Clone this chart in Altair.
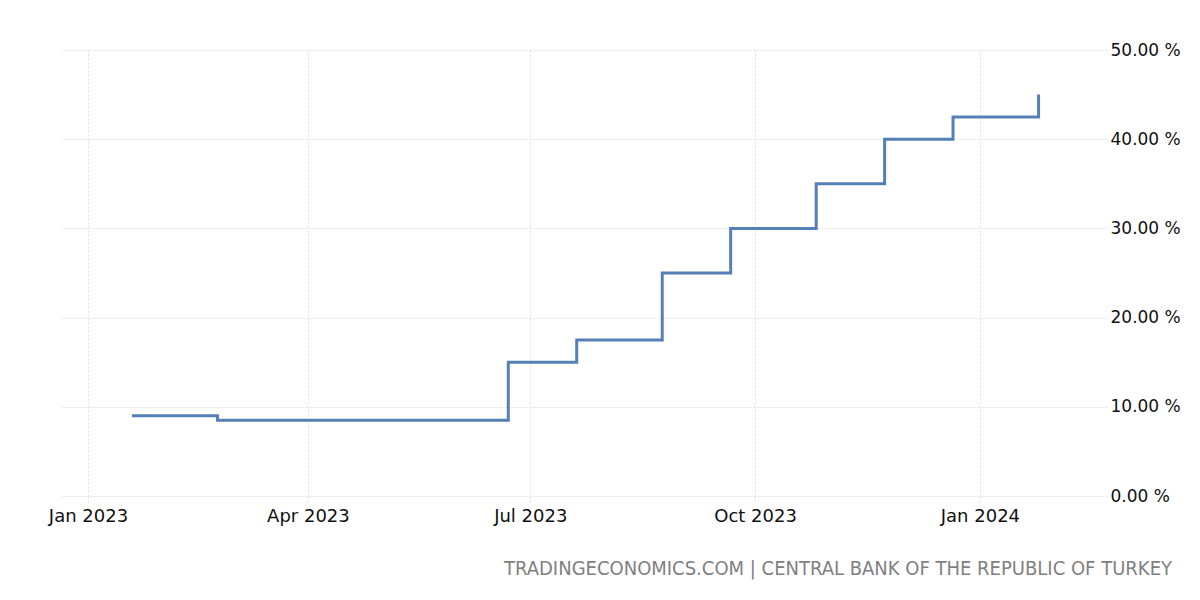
import altair as alt
import pandas as pd

dates = ["2023-01-19", "2023-02-23", "2023-03-23", "2023-04-27", "2023-05-25",
         "2023-06-22", "2023-07-20", "2023-08-24", "2023-09-21", "2023-10-26",
         "2023-11-23", "2023-12-21", "2024-01-25"]
rates = [9.0, 8.5, 8.5, 8.5, 8.5, 15.0, 17.5, 25.0, 30.0, 35.0, 40.0, 42.5, 45.0]
y_ticks = [0, 10, 20, 30, 40, 50]
x_ticks = [(2023, 1), (2023, 4), (2023, 7), (2023, 10), (2024, 1)]
source_text = "TRADINGECONOMICS.COM | CENTRAL BANK OF THE REPUBLIC OF TURKEY"

df = pd.DataFrame({"date": dates, "rate": rates})

FONT = "DejaVu Sans"
GRID = "#dedede"

x_enc = alt.X(
    "date:T",
    scale=alt.Scale(type="utc", domain=[alt.DateTime(year=2022, month=12, date=21, hours=9, utc=True),
                                        alt.DateTime(year=2024, month=2, date=22, utc=True)]),
    axis=alt.Axis(
        values=[alt.DateTime(year=y, month=m, date=1, utc=True) for y, m in x_ticks],
        labelExpr="utcFormat(datum.value, '%b %Y')",
        title=None, domain=False, grid=True, gridColor=GRID, gridDash=[2, 2],
        ticks=True, tickColor=GRID, tickSize=6, tickDash=[2, 2],
        labelFont=FONT, labelFontSize=18, labelColor="#111111", labelPadding=5,
    ),
)
y_enc = alt.Y(
    "rate:Q",
    scale=alt.Scale(domain=[0, 50], nice=False),
    axis=alt.Axis(
        orient="right", values=y_ticks, title=None, domain=False, ticks=False,
        labelExpr="format(datum.value, '.2f') + ' %'",
        grid=True, gridColor=GRID, gridDash=[2, 2],
        labelFont=FONT, labelFontSize=17, labelColor="#111111", labelPadding=3,
        labelAlign="left", labelBaseline="middle",
    ),
)

line = alt.Chart(df).mark_line(
    interpolate="step-after", color="#5580b5", strokeWidth=3
).encode(x=x_enc, y=y_enc)

footer = alt.Chart(pd.DataFrame({"t": [source_text]})).mark_text(
    align="right", baseline="alphabetic", font="DejaVu Sans Condensed",
    fontSize=20, color="#808080"
).encode(text="t:N", x=alt.value(1110), y=alt.value(525))

chart = alt.layer(line, footer).properties(
    width=1045, height=446,
    padding={"left": 54, "top": 42, "right": 80, "bottom": 90},
    autosize=alt.AutoSizeParams(type="none"),
    background="white",
).configure_view(strokeWidth=0, stroke="transparent")

chart.save("out.html", embed_options={"renderer": "svg", "actions": False})
